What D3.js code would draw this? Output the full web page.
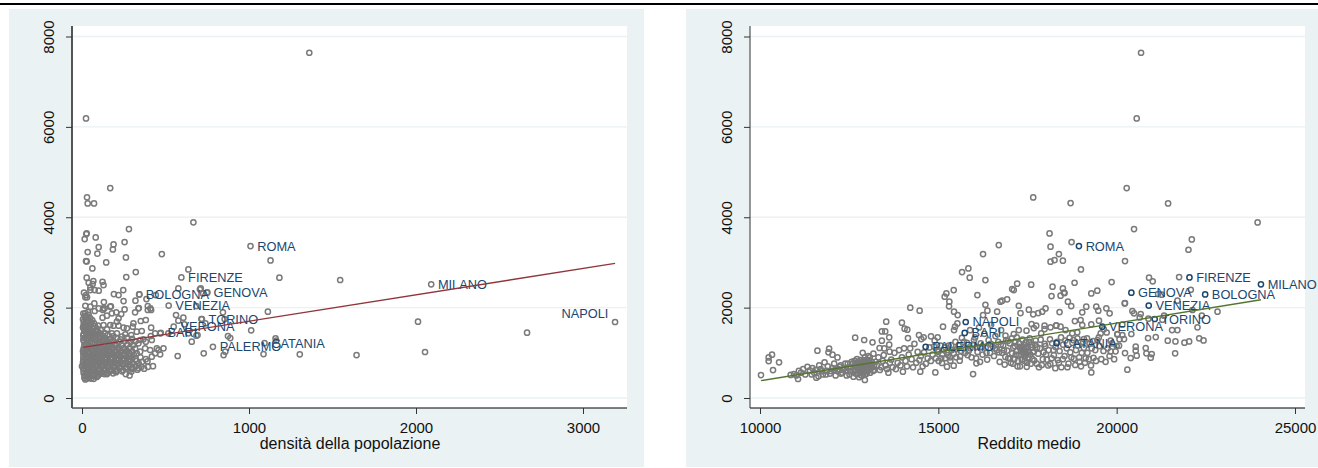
<!DOCTYPE html>
<html><head><meta charset="utf-8">
<script src="https://cdn.jsdelivr.net/npm/d3@7/dist/d3.min.js"></script>
<style>html,body{margin:0;padding:0;background:#fff}svg{display:block}text{font-family:"Liberation Sans",Arial,sans-serif}</style>
</head><body><svg id="c" width="1318" height="468"></svg>
<script>
const yTicks=[0,2000,4000,6000,8000];
const xTicksDensita=[0,1000,2000,3000];
const xTicksReddito=[10000,15000,20000,25000];
const citta=["ROMA","MILANO","NAPOLI","FIRENZE","BOLOGNA","GENOVA","VENEZIA","TORINO","VERONA","BARI","PALERMO","CATANIA"];
const cittaDensita=[1009,2091,3192,595,342,748,519,718,549,472,784,1093];
const cittaReddito=[18942,24045,15768,22041,22481,20412,20899,21067,19597,15740,14644,18315];
const cittaValore=[3362,2515,1682,2669,2293,2330,2045,1748,1578,1440,1132,1213];
const fitDensita=[[8,1120],[3192,2980]];
const fitReddito=[[10028,385],[24045,2175]];
const puntiDensita=[[1361,7640],[24,6188],[169,4646],[30,4440],[34,4307],[72,4307],[667,3887],[281,3739],[28,3644],
[26,3628],[16,3517],[82,3554],[255,3451],[189,3399],[185,3289],[100,3340],[92,3193],[34,3230],[24,3031],[28,3023],[263,3112],[145,3001],[62,2868],[478,3185],[637,2846],[322,2787],[265,2677],[28,2662],[68,2588],[40,2551],[123,2573],[129,2500],[64,2522],[50,2448],[50,2389],[76,2389],[100,2374],[12,2330],[24,2278],[30,2227],[20,2227],[191,2300],[219,2278],[247,2389],[344,2293],[249,2146],[320,2153],[386,2190],[442,2278],[577,2426],[706,2404],[20,2042],[74,2094],[50,2020],[131,2123],[100,1983],[127,1983],[173,2028],[255,1961],[340,1990],[394,2035],[410,1983],
[76,1925],[125,1947],[135,1984],[169,2021],[205,1896],[235,1859],[318,1896],[338,1984],[394,1947],[414,1947],[382,1726],[352,1704],[308,1652],[304,1579],[249,1557],[219,1763],[209,1689],[179,1874],[149,1822],[123,1778],[30,1726],[50,1763],[10,1579],[96,1601],[129,1615],[169,1615],[189,1601],[219,1601],[269,1542],[414,1556],[358,1483],[328,1468],[468,1431],[438,1431],[412,1372],[295,1394],[259,1409],[239,1357],[209,1431],[179,1431],[139,1431],[109,1431],[80,1468],[60,1431],[418,1284],[382,1247],[368,1298],[348,1284],[338,1210],[488,1099],[458,1062],[448,1099],[438,989],[468,966],[418,915],[408,1062],[378,1099],[348,1025],[328,989],[573,930],[563,1837],[607,1778],[577,1711],[613,1630],[517,1431],[657,1247],[637,1431],[692,1394],
[711,2426],[751,2337],[725,2315],[685,2035],[844,1895],[854,1747],[715,1747],[739,1652],[685,1379],[874,1371],[888,1327],[1013,1497],[1113,1910],[1159,1320],[1163,1268],[729,988],[858,1025],[848,951],[1087,973],[1304,966],[1129,3045],[1182,2662],[1546,2611],[1644,951],[2012,1688],[2054,1018],[2665,1445],
[20,1880],[36,1900],[14,1810],[40,1840],[22,1760],[62,1720],[12,1690],[34,1660],[72,1650],[18,1620],[48,1600],[28,1560],[66,1540],[90,1530],[12,1520],[40,1500],[112,1500],[150,1520],[20,1470],[36,1440],[10,1420],[90,1400],[125,1375],[155,1390],[188,1370],[26,1375],[50,1360],[70,1340],[16,1330],[105,1330],[140,1320],[170,1310],[205,1330],[232,1300],[270,1330],[300,1310],[42,1290],[88,1280],[120,1270],[155,1250],[186,1265],[222,1240],[256,1255],[290,1240],[320,1255],
[12,1250],[30,1210],[60,1225],[75,1190],[104,1205],[135,1190],[165,1185],[200,1190],[236,1170],[272,1185],[306,1170],[14,1160],[46,1150],[85,1140],[118,1130],[150,1125],[182,1115],[216,1120],[250,1105],[286,1110],[318,1095],[10,1100],[28,1085],[64,1075],[98,1065],[132,1060],[166,1050],[200,1055],[234,1040],[268,1045],[300,1030],[6,1040],[42,1020],[78,1010],[112,1000],[146,995],[180,990],[216,985],[252,975],[284,985],[310,960],[18,975],[56,960],[92,950],[126,940],[160,935],[196,925],[232,915],[268,905],[300,890],[350,900],[382,860],[8,915],[36,905],[72,895],[108,885],[142,875],[176,870],[212,860],[248,850],[286,830],[326,815],[360,800],[392,810],[22,850],[54,840],[90,830],[124,820],[158,815],[192,805],[228,795],[266,785],[304,770],[340,760],[6,790],[38,785],[72,775],[106,765],[140,755],[174,750],[210,740],[246,730],[282,715],[320,700],[356,690],[395,690],[425,705],[20,725],[54,715],[88,705],[122,695],[156,690],[192,680],[228,665],[264,650],[300,640],[332,625],[372,650],[0,700],[8,650],[34,660],[68,645],[102,635],[136,625],[170,615],[206,600],[240,590],[296,585],[10,600],[46,595],[82,585],[116,570],[150,560],[186,545],[262,530],[285,500],[24,545],[60,535],[96,520],[134,530],[18,490],[40,480],[74,490],[30,430],[20,410],[70,425],[44,450],[88,465]];
const altriDensita=[[8,1870],[28,1800],[6,1740],[44,1700],[10,1640],[56,1660],[24,1590],[6,1560],[42,1540],[78,1590],[16,1490],[54,1480],[94,1470],[28,1450],[72,1420],[8,1380],[42,1400],[108,1380],[60,1300],[28,1300],[8,1290],[82,1320],[50,1250],[100,1240],[136,1270],[172,1240],[24,1170],[62,1140],[100,1160],[134,1150],[168,1150],[204,1150],[40,1110],[82,1100],[116,1095],[150,1090],[184,1085],[220,1080],[256,1070],[20,1050],[60,1040],[96,1030],[130,1025],[164,1020],[198,1020],[232,1005],[270,1010],[36,990],[74,980],[110,970],[144,965],[178,960],[214,950],[250,940],[286,935],[8,990],[38,940],[74,925],[108,918],[142,905],[178,900],[214,890],[250,880],[286,865],[320,860],[20,905],[54,880],[88,860],[106,848],[140,840],[174,838],[210,825],[246,815],[284,800],[8,850],[38,820],[72,810],[106,800],[140,790],[174,780],[210,770],[246,760],[284,745],[22,780],[54,750],[88,740],[122,728],[156,722],[192,712],[228,700],[264,685],[300,670],[338,665],[8,730],[36,695],[70,680],[104,668],[138,658],[174,648],[210,632],[246,620],[26,625],[60,615],[96,605],[132,595],[168,585],[204,570],[10,550],[42,560],[78,550],[114,540],[150,530],[30,510],[60,500],[96,495],[14,450],[54,430]];
const puntiReddito=[[20684,7640],[20562,6187],[20281,4646],[17660,4439],[18708,4314],[21442,4306],[23952,3886],[20487,3738],[18118,3643],
[18736,3451],[18146,3348],[18380,3186],[18492,3038],[18258,3053],[18146,3016],[20234,3031],[18998,2846],[18820,2551],[19859,2566],[18202,2463],[18492,2426],[18520,2330],[18427,2264],[18174,2256],[19288,2315],[19457,2374],[20908,2662],[21011,2581],[21751,2677],[18633,2131],[18726,2035],[19148,2020],[19429,2020],[19485,1932],[19710,1984],[19803,1873],[20225,2094],[20440,1925],[20487,1873],[20674,1858],[18399,1902],[19035,1895],[18989,1726],[18829,1703],[19288,1630],[19504,1711],[19035,1615],[18567,1504],[18305,1600],[18427,1578],[18755,1431],[18895,1453],[20019,1408],[20159,1394],
[22107,3510],[22013,3281],[22079,2396],[21704,2153],[22828,1910],[22388,1821],[22266,1563],[22313,1320],[22435,1275],[22032,1253],[21901,1224],[21639,988],[21648,1253],[21433,1268],[21096,1349],[20880,1327],[21554,1504],[21704,1504],[21330,1821],[21283,1733],[22126,1947],[21264,2286],[21161,2300],[20234,2101],[20646,1784],[20890,1755],[20159,1622],[20412,1416],[20206,1305],[20534,1135],[20534,1047],[20562,936],[20393,885],[20234,995],[20815,1106],[20834,988],[20983,973],[20955,892],[20300,626],[19289,567],
[17603,2507],[17210,2529],[17070,2411],[17116,2389],[16929,2183],[16789,2153],[18540,2322],[17800,1880],[17912,1910],[18006,1983],[17660,1851],[17538,1954],[17304,1880],[17257,2042],[18306,1607],[18146,1563],[17978,1600],[17978,1526],[17744,1600],[17613,1637],[17678,1548],[17472,1489],[17116,1416],[16883,1379],[17257,1504],[17884,1430],[19083,1305],[19551,1430],[19720,1450],[19640,1520],[19832,1268],[20066,1157],[19832,1032],[19970,1032],[20019,1416],
[10028,508],[10243,899],[10337,958],[10243,818],[10365,619],[10534,789],[11067,420],[11610,1047],[11938,1091],[11919,1010],[12032,958],[12172,899],[12668,1334],[12921,1283],[13155,1231],[13417,1268],[13539,1688],[13417,1474],[13511,1474],[13623,1342],[13623,1180],[13352,1106],[13483,1098],[13633,1025],[13979,1666],[14054,1534],[14129,1511],[14148,1327],[14213,1998],[14476,1932],[14457,1393],[14523,1305],[14588,1342],[14794,1364],[14981,1342],[14897,1268],[15131,1578],[15431,2389],[15225,2315],[15178,2242],[15309,2131],[15300,2028],[15440,1910],[15543,1836],[15468,1578],[15440,1504],[15534,1651],[15665,2787],[15842,2868],[15880,2662],[16320,2610],[16254,3186],[16695,3385],[16095,2278],[16320,2064],[16376,1932],[16254,1836],[16648,1910],[16741,2131],[14494,582],[14916,567],[15974,530],[12940,398],[14007,582],[15103,774],[15243,693],[15431,715],[15599,826],[15337,826],[16067,767],
[10860,510],[10950,530],[11020,500],[11090,600],[11150,560],[11210,640],[11270,520],[11330,690],[11400,610],[11470,660],[11520,560],[11580,450],[11640,480],[11660,720],[11700,640],[11760,520],[11810,790],[11870,600],[11900,700],[11960,540],[12030,660],[12080,760],[12120,500],[12180,590],[12230,690],[12270,540],[12330,620],[12390,760],[12430,500],[12480,680],[12530,590],[12570,800],[12620,470],[12660,700],[12690,620],[12720,860],[12750,530],[12780,460],[12800,760],[12830,680],[12850,580],[12880,1000],[12900,840],[12920,640],[12950,520],[12970,770],[12990,700],[13010,600],[13040,930],[13060,840],[13090,560],[13120,740],[13150,680],[13180,980],[13210,620],[13240,800],[13280,720],[13320,900],[13360,620],[13400,680],[13440,820],[13470,950],[13520,720],[13560,640],[13600,560],[13640,780],[13680,850],[13720,680],[13770,1000],[13810,640],[13860,780],[13900,1060],[13940,720],[13980,900],[14040,1100],[14080,820],[14120,700],[14170,960],[14210,1100],[14250,860],[14290,680],[14330,1200],[14380,780],[14420,1020],[14470,840],[14510,930],[14560,700],[14600,1010],[14650,760],[14700,880],[14750,1120],[14790,820],[14840,960],[14880,1140],[14930,880],[14970,1040],[15010,820],[15060,1160],[15110,960],[15150,1060],[15190,880],[15240,1010],[15290,1160],[15330,900],[15380,1060],[15430,980],[15480,1240],[15520,1080],[15570,1160],[15610,920],[15660,1330],[15700,1100],[15750,1000],[15800,1220],[15850,1040],[15890,1500],[15930,900],[15980,1180],[16030,1340],[16060,880],[16100,1020],[16140,1560],[16170,800],[16190,1210],[16240,960],[16290,1420],[16330,1110],[16370,850],[16410,1280],[16450,1000],[16480,1620],[16520,1150],[16560,930],[16600,1370],[16640,1060],[16680,1240],[16720,800],[16760,1500],[16790,1000],[16820,1160],[16860,740],[16900,1280],[16930,1050],[16960,880],[17000,1210],[17030,780],[17070,990],[17100,1110],[17130,860],[17160,1240],[17190,1040],[17220,700],[17250,940],[17280,1130],[17310,1060],[17340,850],[17350,1084],[17380,1000],[17400,1170],[17430,920],[17460,1090],[17490,780],[17520,1040],[17550,1240],[17580,960],[17610,1120],[17640,860],[17680,1030],[17720,1180],[17760,760],[17800,980],[17850,1100],[17900,730],[17950,1010],[18000,1150],[18040,850],[18090,1060],[18140,750],[18190,1210],[18240,950],[18290,1130],[18350,840],[18400,1040],[18450,680],[18500,1180],[18540,930],[18600,1100],[18650,760],[18700,1010],[18760,1220],[18800,870],[18860,1060],[18910,1160],[18960,800],[19020,1000],[19080,1110],[19130,880],[19180,1000],[19240,1200],[19300,1100],[19350,890],[19400,1060],[19460,1280],[19520,1150],[19570,860],[19630,1040],[19690,800],[19750,1100],[19800,930],[19870,1210],[19930,860],[20000,1150],[20080,1300]];
const altriReddito=[[12560,680],[12600,760],[12620,590],[12650,820],[12680,540],[12700,740],[12720,680],[12740,790],[12760,620],[12780,720],[12790,560],[12810,840],[12820,640],[12840,760],[12850,500],[12860,700],[12880,600],[12890,800],[12900,540],[12910,720],[12930,660],[12940,900],[12950,780],[12960,600],[12980,840],[12990,540],[13000,740],[13020,680],[13030,800],[13050,620],[13070,720],[13080,900],[13100,660],[13130,800],[13170,600],[13200,720],[12200,640],[12260,720],[12310,560],[12370,660],[12420,600],[12460,760],[12510,520],[11450,520],[11560,620],[11730,590],[11850,520],[11990,600],[12100,620],
[16950,1260],[17010,880],[17060,1320],[17090,760],[17140,1150],[17170,960],[17200,1340],[17230,820],[17260,1210],[17290,700],[17320,1120],[17330,950],[17360,1290],[17370,1130],[17390,1070],[17410,1000],[17420,820],[17440,1050],[17450,1230],[17470,960],[17480,690],[17510,1110],[17530,900],[17560,1320],[17590,760],[17620,1180],[17650,1010],[17690,830],[17730,1270],[17770,1120],[17820,680],[17870,1290],[17930,860],[17980,1200],[18020,960],[18080,720],[18130,1300],[18180,880],[18230,1060],[18280,660],[18330,1240],[18380,780],[18440,1340],[18490,860],[18560,1270],[18620,680],[18680,1330],[18730,900],[18790,1280],[18840,730],[18900,1320],[18950,900],[19000,700],[19060,1240],[19110,780],[19170,1320],[19220,860],[19280,720],[19340,1260],[19420,820],[19500,1340],
[15000,1020],[15080,880],[15200,1120],[15270,950],[15360,1170],[15500,900],[15640,1040],[15720,1240],[15820,950],[15900,1100],[16000,1280],[16080,1130],[16220,1130],[16350,1000],[16470,1200],[16590,1100],[16700,1010],[16750,1180],[16840,1060],[16880,910]];

const svg=d3.select("#c");
svg.append("rect").attr("x",0).attr("y",3).attr("width",1318).attr("height",2).attr("fill","#000");
const sfondo="#eaf2f3", navy="#1a476f", grigio="#7a7a7a";
function pannello(o){
  const g=svg.append("g");
  g.append("rect").attr("x",o.bg[0]).attr("y",9).attr("width",o.bg[1]-o.bg[0]).attr("height",458).attr("fill",sfondo);
  g.append("rect").attr("x",o.plot[0]).attr("y",26).attr("width",o.plot[1]-o.plot[0]).attr("height",382).attr("fill","#fff");
  const x=d3.scaleLinear().domain(o.xd).range(o.xr), y=d3.scaleLinear().domain([0,8000]).range([398,36.5]);
  g.selectAll(".gl").data(yTicks).join("line").attr("x1",o.plot[0]).attr("x2",o.plot[1]).attr("y1",d=>y(d)).attr("y2",d=>y(d)).attr("stroke",sfondo).attr("stroke-width",1.3);
  const ax=g.append("g").attr("transform",`translate(0,408)`).call(d3.axisBottom(x).tickValues(o.xt).tickSize(6).tickSizeOuter(0).tickFormat(d3.format("d")));
  ax.select(".domain").attr("d",`M${o.plot[0]},0H${o.plot[1]}`).attr("stroke","#000");
  ax.selectAll("line").attr("stroke","#333");
  ax.selectAll("text").attr("y",19).attr("dy","0").attr("dominant-baseline","central").attr("font-size",15).attr("fill","#111");
  const ay=g.append("g").attr("transform",`translate(${o.plot[0]},0)`).call(d3.axisLeft(y).tickValues(yTicks).tickSize(6).tickSizeOuter(0).tickFormat(d3.format("d")));
  ay.select(".domain").attr("d","M0,26V408").attr("stroke",o.asseY).attr("stroke-width",o.asseW);
  ay.selectAll("line").attr("stroke","#333");
  ay.selectAll(".tick text").attr("x",0).attr("y",0).attr("dy",0).attr("text-anchor","middle").attr("dominant-baseline","central").attr("font-size",15).attr("fill","#111").attr("transform","translate(-24,0) rotate(-90)");
  g.append("text").attr("x",o.tx).attr("y",443).attr("text-anchor","middle").attr("dominant-baseline","central").attr("font-size",16).attr("fill","#111").text(o.title);
  g.append("g").selectAll("circle").data(o.pts).join("circle").attr("cx",d=>x(d[0])).attr("cy",d=>y(d[1])).attr("r",2.6).attr("fill","none").attr("stroke",grigio).attr("stroke-width",1.5);
  const lab=citta.map((c,i)=>({c,x:o.cx[i],v:cittaValore[i]}));
  g.append("g").selectAll("circle").data(lab).join("circle").attr("cx",d=>x(d.x)).attr("cy",d=>y(d.v)).attr("r",2.6).attr("fill","none").attr("stroke",o.mk).attr("stroke-width",1.5);
  g.append("g").selectAll("text").data(lab).join("text").attr("x",d=>x(d.x)+(o.leftLab===d.c?-6.7:6.7)).attr("y",d=>y(d.v)+(o.leftLab===d.c?-8:0)).attr("text-anchor",d=>o.leftLab===d.c?"end":"start").attr("dominant-baseline","central").attr("font-size",12.8).attr("fill",navy).text(d=>d.c);
  g.append("path").datum(o.fit).attr("d",d3.line().x(d=>x(d[0])).y(d=>y(d[1]))).attr("fill","none").attr("stroke",o.fc).attr("stroke-width",1.4);
}
pannello({bg:[9,644],plot:[72,627],xd:[0,3000],xr:[82,583],xt:xTicksDensita,title:"densità della popolazione",tx:350,pts:puntiDensita.concat(altriDensita),cx:cittaDensita,fit:fitDensita,fc:"#90353b",mk:grigio,leftLab:"NAPOLI",asseY:"#555",asseW:2});
pannello({bg:[686,1318],plot:[750,1305],xd:[10000,25000],xr:[760,1295],xt:xTicksReddito,title:"Reddito medio",tx:1029,pts:puntiReddito.concat(altriReddito),cx:cittaReddito,fit:fitReddito,fc:"#55752f",mk:navy,leftLab:null,asseY:"#333",asseW:1});
</script></body></html>
